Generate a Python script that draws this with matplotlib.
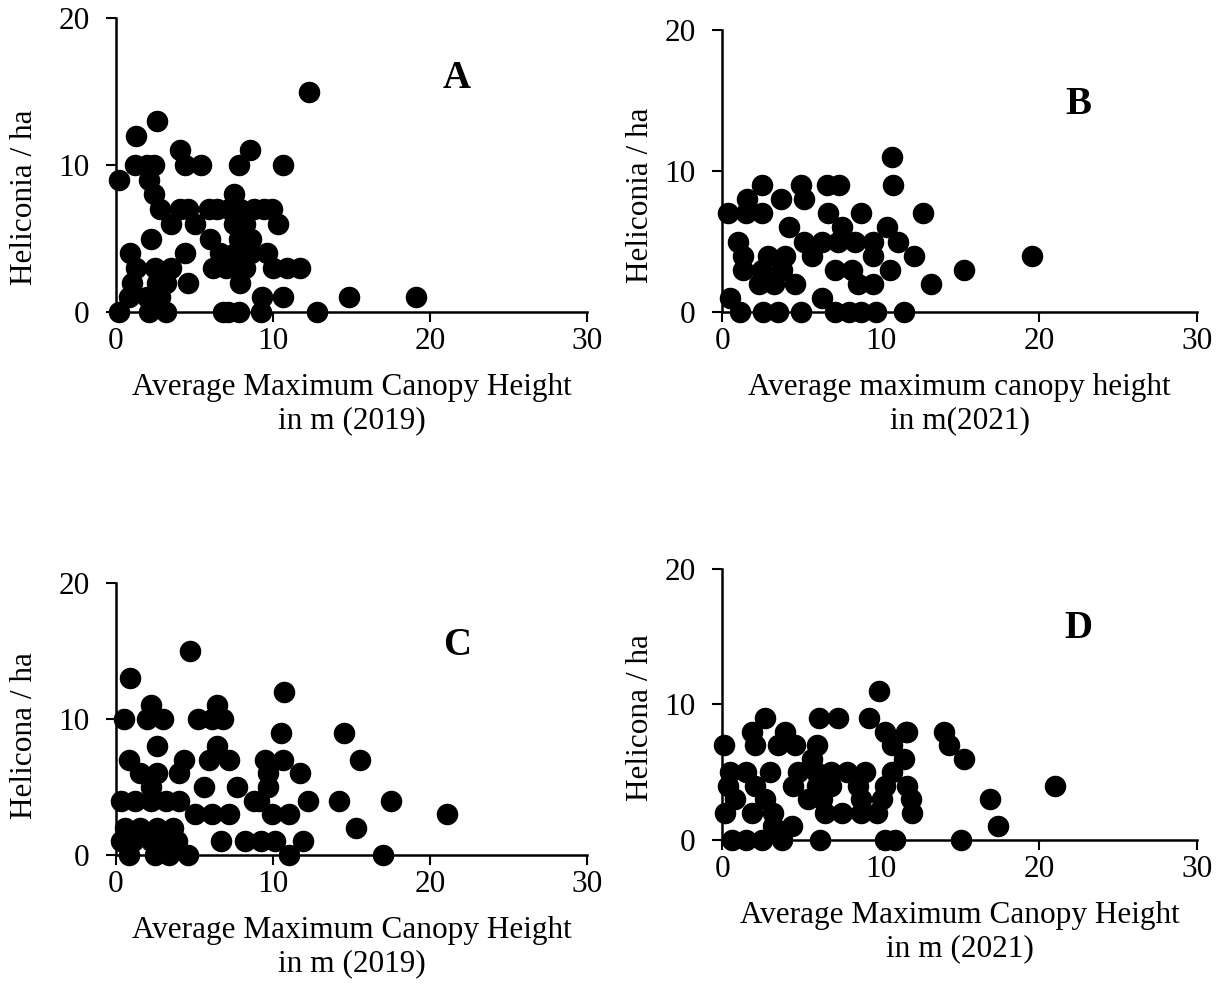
import matplotlib
matplotlib.use("Agg")
import matplotlib.pyplot as plt

plt.rcParams['font.family'] = ['Liberation Serif', 'DejaVu Serif']

# canopy height (m) vs heliconia density, 2019 / 2021
a_x = [12.3, 2.6, 1.3, 4.1, 8.5, 0.2, 1.2, 2.0, 2.4, 4.4, 5.4, 7.8, 10.6,
       2.1, 2.4, 7.5, 2.8, 4.1, 4.6, 5.9, 6.4, 7.2, 7.9, 8.8, 9.4, 9.9,
       3.5, 5.0, 7.5, 8.2, 10.3, 6.0, 7.8, 8.6,
       2.2, 0.9, 4.4, 6.6, 7.6, 8.6, 9.6,
       1.3, 2.5, 3.5, 6.2, 7.0, 8.2, 10.0, 10.9, 11.7,
       1.0, 2.6, 3.2, 4.6, 7.9,
       0.8, 2.0, 2.8, 9.3, 10.6, 14.8, 19.1,
       0.2, 2.1, 3.2, 6.8, 7.1, 7.8, 9.2, 12.8]
a_y = [15, 13, 12, 11, 11, 9, 10, 10, 10, 10, 10, 10, 10,
       9, 8, 8, 7, 7, 7, 7, 7, 7, 7, 7, 7, 7,
       6, 6, 6, 6, 6, 5, 5, 5,
       5, 4, 4, 4, 4, 4, 4,
       3, 3, 3, 3, 3, 3, 3, 3, 3,
       2, 2, 2, 2, 2,
       1, 1, 1, 1, 1, 1, 1,
       0, 0, 0, 0, 0, 0, 0, 0]

b_x = [10.7, 10.8, 2.5, 5.0, 6.6, 7.4,
       1.6, 3.7, 5.2,
       0.4, 1.5, 2.5, 6.7, 8.8, 12.7,
       4.2, 7.6, 10.4,
       1.0, 5.2, 6.3, 7.3, 8.4, 9.5, 11.1,
       1.3, 2.9, 4.0, 5.7, 9.5, 12.1, 19.6,
       1.3, 2.5, 3.8, 7.1, 8.2, 10.6, 15.3,
       2.3, 3.3, 4.6, 8.6, 9.5, 13.2,
       0.5, 6.3,
       1.1, 2.6, 3.5, 5.0, 7.1, 8.0, 8.8, 9.7, 11.5]
b_y = [11, 9, 9, 9, 9, 9,
       8, 8, 8,
       7, 7, 7, 7, 7, 7,
       6, 6, 6,
       5, 5, 5, 5, 5, 5, 5,
       4, 4, 4, 4, 4, 4, 4,
       3, 3, 3, 3, 3, 3, 3,
       2, 2, 2, 2, 2, 2,
       1, 1,
       0, 0, 0, 0, 0, 0, 0, 0, 0]

c_x = [4.7, 0.9, 10.7, 2.2, 6.4,
       0.5, 2.0, 3.0, 5.2, 6.1, 6.8,
       10.5, 14.5,
       2.6, 6.4,
       0.8, 4.3, 5.9, 7.2, 9.5, 10.6, 15.5,
       1.5, 2.6, 4.0, 9.7, 11.7,
       2.2, 5.6, 7.7, 9.7,
       0.3, 1.2, 2.2, 3.2, 4.0, 8.8, 9.1, 12.2, 14.2, 17.5,
       5.0, 6.1, 7.2, 9.9, 11.0, 21.1,
       0.6, 1.5, 2.6, 3.6, 15.3,
       0.3, 1.1, 2.2, 3.0, 3.9, 6.7, 8.2, 9.2, 10.1, 11.9,
       0.8, 2.5, 3.4, 4.6, 11.0, 17.0]
c_y = [15, 13, 12, 11, 11,
       10, 10, 10, 10, 10, 10,
       9, 9,
       8, 8,
       7, 7, 7, 7, 7, 7, 7,
       6, 6, 6, 6, 6,
       5, 5, 5, 5,
       4, 4, 4, 4, 4, 4, 4, 4, 4, 4,
       3, 3, 3, 3, 3, 3,
       2, 2, 2, 2, 2,
       1, 1, 1, 1, 1, 1, 1, 1, 1, 1,
       0, 0, 0, 0, 0, 0]

d_x = [9.9,
       2.7, 6.1, 7.3, 9.3,
       1.9, 4.0, 10.3, 11.7, 11.6, 14.0,
       0.1, 2.1, 3.5, 4.6, 6.0, 10.7, 14.3,
       5.7, 11.5, 15.3,
       0.5, 1.5, 3.0, 4.8, 5.9, 6.9, 7.9, 9.0, 10.7,
       0.4, 2.1, 4.5, 6.0, 6.9, 8.6, 10.3, 11.7, 21.0,
       0.8, 2.7, 5.4, 6.3, 8.8, 10.1, 11.9, 16.9,
       0.2, 1.9, 3.2, 6.5, 7.6, 8.8, 9.8, 12.0,
       3.2, 4.4, 17.4,
       0.6, 1.5, 2.5, 3.8, 6.2, 10.3, 10.9, 15.1]
d_y = [11,
       9, 9, 9, 9,
       8, 8, 8, 8, 8, 8,
       7, 7, 7, 7, 7, 7, 7,
       6, 6, 6,
       5, 5, 5, 5, 5, 5, 5, 5, 5,
       4, 4, 4, 4, 4, 4, 4, 4, 4,
       3, 3, 3, 3, 3, 3, 3, 3,
       2, 2, 2, 2, 2, 2, 2, 2,
       1, 1, 1,
       0, 0, 0, 0, 0, 0, 0, 0]

# rect, data, letter, labels, letter position (data), ylabel coords (axes)
panels = [
    ([0.0948, 0.6845, 0.385, 0.2973], a_x, a_y, 'A', 'Heliconia / ha',
     'Average Maximum Canopy Height\nin m (2019)', (21.7, 15.9), (-0.195, 0.39)),
    ([0.590, 0.6845, 0.388, 0.285], b_x, b_y, 'B', 'Heliconia / ha',
     'Average maximum canopy height\nin m(2021)', (22.5, 14.7), (-0.171, 0.415)),
    ([0.0948, 0.1355, 0.385, 0.275], c_x, c_y, 'C', 'Helicona / ha',
     'Average Maximum Canopy Height\nin m (2019)', (21.7, 15.4), (-0.195, 0.44)),
    ([0.590, 0.1507, 0.388, 0.274], d_x, d_y, 'D', 'Helicona / ha',
     'Average Maximum Canopy Height\nin m (2021)', (22.5, 15.6), (-0.171, 0.45)),
]

fs = 22.5
fig = plt.figure(figsize=(12.24, 9.89), dpi=100)

for rect, xs, ys, letter, ylab, xlab, lpos, ycoord in panels:
    ax = fig.add_axes(rect)
    ax.scatter(xs, ys, s=210, color='black', clip_on=False, zorder=3)
    ax.set_xlim(0, 30)
    ax.set_ylim(0, 20)
    ax.set_xticks([0, 10, 20, 30])
    ax.set_yticks([0, 10, 20])
    ax.spines['top'].set_visible(False)
    ax.spines['right'].set_visible(False)
    for s in ['left', 'bottom']:
        ax.spines[s].set_linewidth(1.8)
    ax.tick_params(labelsize=fs, width=1.5, length=7, direction='out')
    ax.tick_params(axis='y', pad=12)
    ax.tick_params(axis='x', pad=4)
    ax.set_ylabel(ylab, fontsize=fs, va='center')
    ax.yaxis.set_label_coords(*ycoord)
    ax.set_xlabel(xlab, fontsize=fs, linespacing=1.2, labelpad=12)
    ax.text(lpos[0], lpos[1], letter, fontsize=28, fontweight='bold',
            ha='center', va='center')

fig.savefig('out.png', dpi=100)
